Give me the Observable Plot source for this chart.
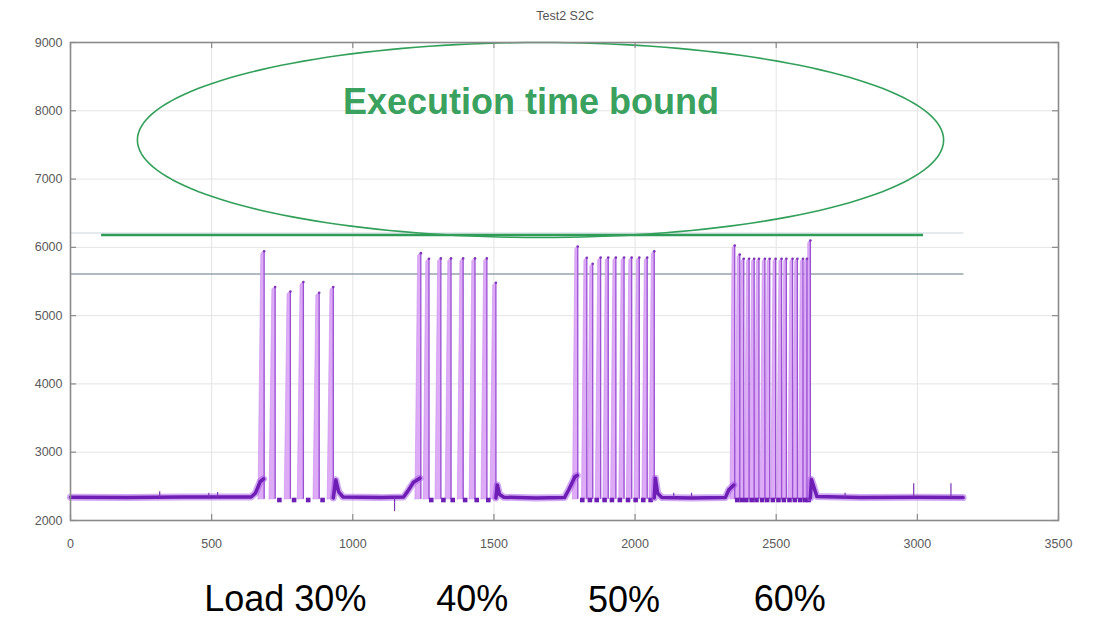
<!DOCTYPE html>
<html>
<head>
<meta charset="utf-8">
<script src="https://cdn.jsdelivr.net/npm/d3@7"></script>
<script src="https://cdn.jsdelivr.net/npm/@observablehq/plot@0.6"></script>
<style>
  html, body { margin: 0; padding: 0; background: #fff; }
  #chart { width: 1101px; height: 620px; }
</style>
</head>
<body>
<div id="chart"></div>
<script>
// ---------- data ----------
const xTicks = [0, 500, 1000, 1500, 2000, 2500, 3000, 3500];
const yTicks = [2000, 3000, 4000, 5000, 6000, 7000, 8000, 9000];

// spike positions (x) and peak values, per load level
const spike30X   = [686, 725, 779, 825, 881, 931];
const spike30Top = [5944, 5418, 5354, 5491, 5335, 5418];
const spike40X   = [1241, 1270, 1312, 1348, 1391, 1433, 1475, 1507];
const spike40Top = [5915, 5833, 5838, 5838, 5838, 5838, 5838, 5482];
const spike50X   = [1797, 1829, 1850, 1878, 1905, 1932, 1961, 1988, 2015, 2043, 2068];
const spike50Top = [6013, 5848, 5760, 5850, 5850, 5850, 5850, 5850, 5850, 5850, 5944];
const spike60X   = [2353, 2371, 2385, 2404, 2422, 2439, 2460, 2477, 2498, 2519, 2536, 2558, 2575, 2595, 2609, 2621];
const spike60Top = [6028, 5896, 5833, 5833, 5833, 5833, 5833, 5833, 5833, 5833, 5833, 5833, 5833, 5833, 5833, 6101];

// low samples between spikes
const dip30X = [740, 792, 842, 893];
const dip40X = [1278, 1321, 1354, 1398, 1439, 1480];
const dip50X = [1813, 1840, 1864, 1892, 1918, 1946, 1975, 2002, 2029, 2055];
const dip60X = [2362, 2378, 2394, 2413, 2430, 2450, 2468, 2488, 2508, 2527, 2547, 2566, 2585, 2602, 2615];
const dipValue = 2300;
const spikeLow = 2310;

// idle baseline trace (segment id, x, value)
const baseSeg = [0,0,0,0,0,0,0, 1,1,1,1,1,1,1,1,1, 2,2,2,2,2,2,2,2,2, 3,3,3,3,3,3,3,3, 4,4,4,4,4,4];
const baseX   = [0,200,400,640,655,672,684, 931,940,950,965,1100,1180,1195,1215,1238, 1507,1512,1520,1535,1650,1750,1765,1787,1795, 2068,2072,2080,2095,2200,2320,2332,2350, 2621,2625,2644,2800,3000,3162];
const baseY   = [2340,2335,2345,2345,2400,2570,2610, 2330,2595,2420,2345,2335,2345,2430,2560,2620, 2330,2520,2380,2340,2330,2335,2450,2640,2660, 2330,2620,2400,2335,2330,2335,2450,2520, 2330,2600,2350,2335,2340,2335];

// small isolated excursions on the baseline
const blipX   = [316, 490, 521, 1148, 2137, 2200, 2744, 2987, 3119];
const blipTop = [2420, 2400, 2410, 2130, 2400, 2400, 2400, 2540, 2540];
const baseLevel = 2335;

// reference lines
const refLines = [
  {y: 6210, x1: 0,   x2: 3165, kind: "faint"},
  {y: 5610, x1: 0,   x2: 3165, kind: "grey"},
  {y: 6181, x1: 110, x2: 3022, kind: "bound"}
];

// annotation ellipse (data units)
const ellipseCX = 1665, ellipseCY = 7572, ellipseRX = 1428, ellipseRY = 1428;
const boundText = ["Execution time bound"];
const boundX = [1631], boundY = [8121];

const titleText = "Test2 S2C";
const titleX = 1752;

const loadLabels = ["Load 30%", "40%", "50%", "60%"];
const loadX      = [761, 1423, 1961, 2548];
const loadLow    = [false, false, true, false];

// ---------- build tables ----------
const blocks = [
  {xs: spike30X, tops: spike30Top, dips: dip30X, w: 20},
  {xs: spike40X, tops: spike40Top, dips: dip40X, w: 19},
  {xs: spike50X, tops: spike50Top, dips: dip50X, w: 17},
  {xs: spike60X, tops: spike60Top, dips: dip60X, w: 15}
];
const wedges = [], spikes = [], dips = [];
let id = 0;
blocks.forEach(b => {
  b.xs.forEach((x, i) => {
    const t = b.tops[i];
    wedges.push({id, x: x - b.w,       y1: spikeLow, y2: spikeLow});
    wedges.push({id, x: x - b.w * 0.5, y1: spikeLow, y2: t - 40});
    wedges.push({id, x: x,             y1: spikeLow, y2: t});
    wedges.push({id, x: x + 2,         y1: spikeLow, y2: spikeLow});
    spikes.push({x, top: t});
    id++;
  });
  b.dips.forEach(x => dips.push({x, y: dipValue}));
});
const base = baseX.map((x, i) => ({seg: baseSeg[i], x, y: baseY[i]}));
const blips = blipX.map((x, i) => ({x, top: blipTop[i]}));
const ellipse = d3.range(0, 361, 2).map(a => {
  const r = a * Math.PI / 180;
  return {x: ellipseCX + ellipseRX * Math.cos(r), y: ellipseCY + ellipseRY * Math.sin(r)};
});
const loads = loadLabels.map((t, i) => ({t, x: loadX[i], low: loadLow[i]}));

const tickLenX = 6 * 3500 / 989;   // 6px in x units
const tickLenY = 6 * 7000 / 478;   // 6px in y units

const chart = Plot.plot({
  width: 1101,
  height: 620,
  marginTop: 42,
  marginBottom: 100,
  marginLeft: 70,
  marginRight: 43,
  style: {fontFamily: "Liberation Sans, Arial, sans-serif", background: "#fff"},
  x: {domain: [0, 3500]},
  y: {domain: [2000, 9000]},
  marks: [
    Plot.gridX(xTicks, {stroke: "#e4e4e4", strokeOpacity: 1}),
    Plot.gridY(yTicks, {stroke: "#e4e4e4", strokeOpacity: 1}),
    // reference lines
    Plot.ruleY(refLines.filter(d => d.kind === "faint"), {y: "y", x1: "x1", x2: "x2", stroke: "#cbd6de", strokeWidth: 1.2}),
    Plot.ruleY(refLines.filter(d => d.kind === "grey"), {y: "y", x1: "x1", x2: "x2", stroke: "#94a4ab", strokeWidth: 1.3}),
    // spikes
    Plot.areaY(wedges, {x: "x", y1: "y1", y2: "y2", z: "id", fill: "#dca6f7", fillOpacity: 0.95, stroke: "#c98cee", strokeWidth: 0.6}),
    Plot.ruleX(spikes, {x: "x", y1: spikeLow, y2: "top", stroke: "#9a52d3", strokeWidth: 1.3}),
    Plot.dot(spikes, {x: "x", y: "top", r: 1.3, fill: "#7e35b8"}),
    Plot.dot(dips, {x: "x", y: "y", symbol: "square", r: 2.6, fill: "#6d1fb3"}),
    // baseline trace
    Plot.line(base, {x: "x", y: "y", z: "seg", stroke: "#a452e6", strokeWidth: 7, strokeOpacity: 0.5}),
    Plot.line(base, {x: "x", y: "y", z: "seg", stroke: "#6e1db5", strokeWidth: 3.5}),
    Plot.ruleX(blips, {x: "x", y1: baseLevel, y2: "top", stroke: "#7a35b5", strokeWidth: 1.2}),
    // bound line, ellipse, label
    Plot.ruleY(refLines.filter(d => d.kind === "bound"), {y: "y", x1: "x1", x2: "x2", stroke: "#2f9d57", strokeWidth: 2.6}),
    Plot.line(ellipse, {x: "x", y: "y", stroke: "#32a05a", strokeWidth: 1.6, curve: "linear"}),
    Plot.text(boundText, {x: boundX, y: boundY, text: d => d, fill: "#3aa15f", fontSize: 36, fontWeight: "bold"}),
    // frame and ticks
    Plot.frame({stroke: "#8a8a8a", strokeWidth: 1.6}),
    Plot.ruleX(xTicks, {x: d => d, y1: 2000, y2: 2000 + tickLenY, stroke: "#8a8a8a", strokeWidth: 1.2}),
    Plot.ruleX(xTicks, {x: d => d, y1: 9000, y2: 9000 - tickLenY, stroke: "#8a8a8a", strokeWidth: 1.2}),
    Plot.ruleY(yTicks, {y: d => d, x1: 0, x2: tickLenX, stroke: "#8a8a8a", strokeWidth: 1.2}),
    Plot.ruleY(yTicks, {y: d => d, x1: 3500, x2: 3500 - tickLenX, stroke: "#8a8a8a", strokeWidth: 1.2}),
    Plot.axisX(xTicks, {tickSize: 0, tickPadding: 19, tickFormat: d3.format("d"), fontSize: 12.5, fill: "#5a5a5a", label: null}),
    Plot.axisY(yTicks, {tickSize: 0, tickPadding: 8, tickFormat: d3.format("d"), fontSize: 12.5, fill: "#5a5a5a", label: null}),
    // title
    Plot.text([titleText], {x: [titleX], frameAnchor: "top", lineAnchor: "middle", dy: -27, text: d => d, fontSize: 12.5, fill: "#555"}),
    // load labels below chart
    Plot.text(loads.filter(d => !d.low), {x: "x", frameAnchor: "bottom", lineAnchor: "middle", dy: 79, text: "t", fontSize: 36, fill: "#000"}),
    Plot.text(loads.filter(d => d.low), {x: "x", frameAnchor: "bottom", lineAnchor: "middle", dy: 80, text: "t", fontSize: 36, fill: "#000"})
  ]
});
document.getElementById("chart").appendChild(chart);
</script>
</body>
</html>
